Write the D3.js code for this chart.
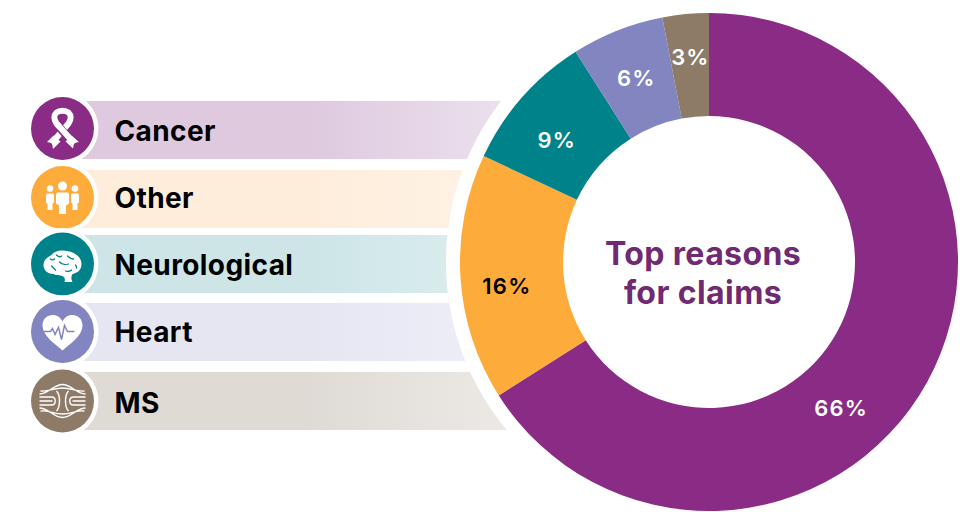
<!DOCTYPE html>
<html><head><meta charset="utf-8">
<style>html,body{margin:0;background:#fff}svg{display:block}</style>
<script src="https://cdnjs.cloudflare.com/ajax/libs/d3/7.8.5/d3.min.js"></script>
</head><body><svg id="c" width="976" height="512"></svg>
<script>
const categories = ["Cancer","Other","Neurological","Heart","MS"];
const shares = [66,16,9,6,3];
const colors = ["#8a2b85","#fdab3a","#00828a","#8285bf","#8d7b68"];
const bandFade = [["#dec9df","#ede3ef"],["#feeddb","#fff4e8"],["#cde5e7","#dff0f1"],["#e6e6f3","#f0f0f9"],["#dfdad4","#eeebe7"]];
const bandTops = [101,170,235,303,372];
const iconCentres = [128.5,197.5,264,331.5,401];
const nameBaselines = [141,207.5,275,342,413];
const labelInk = ["#fff","#000","#fff","#fff","#fff"];
const labelNudge = [[-41,51],[-5,12],[-4,8.5],[0,0],[0,-8]];
const titleLines = ["Top reasons","for claims"];

const FONT = "Inter, 'Open Sans', sans-serif";
const svg = d3.select("#c");
const cx = 709, cy = 262, R = 249, r0 = 146, halo = 263;
const iconX = 62.5, iconR = 31.5, iconHalo = 36;

// legend bands, fading towards the ring
const defs = svg.append("defs");
categories.forEach((c,i)=>{
  const g = defs.append("linearGradient").attr("id","fade"+i);
  g.append("stop").attr("offset","52%").attr("stop-color",bandFade[i][0]);
  g.append("stop").attr("offset","100%").attr("stop-color",bandFade[i][1]);
});
svg.append("g").selectAll("rect").data(categories).join("rect")
  .attr("x",iconX).attr("y",(d,i)=>bandTops[i]).attr("width",470).attr("height",58)
  .attr("fill",(d,i)=>`url(#fade${i})`);

// white halo separating the bands from the ring
svg.append("circle").attr("cx",cx).attr("cy",cy).attr("r",halo).attr("fill","#fff");

const pie = d3.pie().sort(null).value(d=>d);
const arcs = pie(shares);
const arc = d3.arc().innerRadius(r0).outerRadius(R);
const labelArc = d3.arc().innerRadius(197.5).outerRadius(197.5);
const ring = svg.append("g").attr("transform",`translate(${cx},${cy})`);
ring.selectAll("path").data(arcs).join("path").attr("d",arc).attr("fill",(d,i)=>colors[i]);

ring.selectAll("text").data(arcs).join("text")
  .attr("x",(d,i)=>labelArc.centroid(d)[0]+labelNudge[i][0])
  .attr("y",(d,i)=>labelArc.centroid(d)[1]+labelNudge[i][1])
  .attr("dy","0.35em").attr("text-anchor","middle")
  .attr("font-family",FONT).attr("font-size",22).attr("font-weight",600)
  .attr("letter-spacing",1.2)
  .attr("fill",(d,i)=>labelInk[i]).text(d=>d.data+"%");

svg.append("g").selectAll("text").data(titleLines).join("text")
  .attr("x",cx-6).attr("y",(d,i)=>265+i*39).attr("text-anchor","middle")
  .attr("font-family",FONT).attr("font-size",32).attr("font-weight",700)
  .attr("letter-spacing",0.4)
  .attr("fill","#6f2a72").text(d=>d);

svg.append("g").selectAll("text").data(categories).join("text")
  .attr("x",114.5).attr("y",(d,i)=>nameBaselines[i])
  .attr("font-family",FONT).attr("font-size",28).attr("font-weight",700)
  .attr("letter-spacing",0.4)
  .attr("fill","#000").text(d=>d);

// icon discs
const discs = svg.append("g").selectAll("g").data(categories).join("g")
  .attr("transform",(d,i)=>`translate(${iconX},${iconCentres[i]})`);
discs.append("circle").attr("r",iconHalo).attr("fill","#fff");
discs.append("circle").attr("r",iconR).attr("fill",(d,i)=>colors[i]);

const draw = {
  Cancer(g,bg){
    const line = p=>g.append("path").attr("d",p).attr("fill","none").attr("stroke","#fff").attr("stroke-width",6);
    line("M-11,15 L6,-5 C9,-10 9,-13 6,-16 C3,-18.5 -3,-18.5 -6,-16 C-9,-13 -9,-10 -6,-5 L3,5");
    g.append("path").attr("d","M-3,-1 L11,15").attr("fill","none").attr("stroke",bg).attr("stroke-width",8);
    line("M-6,-5 L12,15");
    g.append("path").attr("d","M-9,7 L-15.5,13.5 L-10.5,14.5 L-9.5,20.5 L-2,13Z M9,7 L16.5,13.5 L11.5,14.5 L10.5,20 L3,13Z").attr("fill","#fff");
  },
  Other(g){
    [[0,-11.5,4.5],[-12.5,-9,3.3],[12.5,-9,3.3]].forEach(h=>
      g.append("circle").attr("cx",h[0]).attr("cy",h[1]).attr("r",h[2]).attr("fill","#fff"));
    g.append("path").attr("fill","#fff").attr("d",
      "M-5,-5 H5 Q6.5,-5 6.5,-3 V6 L3.5,8 V16.5 H-3.5 V8 L-6.5,6 V-3 Q-6.5,-5 -5,-5Z"+
      "M-15,-4 H-10 Q-8.5,-4 -8.5,-2.5 V5 L-10,6 V12.5 H-15 V6 L-16.5,5 V-2.5 Q-16.5,-4 -15,-4Z"+
      "M10,-4 H15 Q16.5,-4 16.5,-2.5 V5 L15,6 V12.5 H10 V6 L8.5,5 V-2.5 Q8.5,-4 10,-4Z");
  },
  Neurological(g,bg){
    g.append("path").attr("fill","#fff").attr("d",
      "M-19,1 C-19,-5 -14,-7 -11,-9 C-7,-14 0,-14 5,-13 C12,-12 19,-7 19,0 C19,6 15,9 10,10 C8,13 9,16 10,18 L2,18 C3,15 2,13 0,12 C-3,11 -6,12 -9,10 C-14,10 -19,7 -19,1Z");
    g.append("path").attr("fill","none").attr("stroke",bg).attr("stroke-width",1.3).attr("stroke-linecap","round").attr("d",
      "M-6,-9 C-4,-7 -2,-7 -1,-8 M5,-8 C7,-6 9,-5 11,-5 M-3,-2 C-1,0 3,1 6,0 M-11,2 C-9,4 -8,5 -7,6 M3,7 C5,8 8,7 9,6 M13,1 C14,2 14,3 14,4 M-12,-5 C-11,-4 -9,-4 -8,-5");
  },
  Heart(g,bg){
    g.append("path").attr("fill","#fff").attr("d",
      "M0,19 C-8,12 -20,4 -20,-6 C-20,-13 -15,-16.5 -10,-16.5 C-5,-16.5 -2,-14 0,-10 C2,-14 5,-16.5 10,-16.5 C15,-16.5 20,-13 20,-6 C20,4 8,12 0,19Z");
    g.append("path").attr("fill","none").attr("stroke",bg).attr("stroke-width",1.5).attr("d",
      "M-19,0 H-12 L-10,-3 L-7.5,3 L-4,-4 L-1,8 L2,-6 L5,0 H12");
  },
  MS(g){
    g.append("path").attr("fill","none").attr("stroke","#fff").attr("stroke-width",1.4).attr("d",
      "M-23,-7 C-14,-7 -9,-16.5 0,-16.5 C9,-16.5 14,-7 23,-7 M-23,7 C-14,7 -9,16.5 0,16.5 C9,16.5 14,7 23,7"+
      "M-22,-10 C-14,-9 -9,-13 0,-13 C9,-13 14,-9 22,-10 M-22,10 C-14,9 -9,13 0,13 C9,13 14,9 22,10"+
      "M-6,-10 C-2,-6 -2,6 -6,10 M6,-10 C2,-6 2,6 6,10"+
      "M-23,-4 H-11 C-6,-4 -6,4 -11,4 H-23 M-23,0 H-10 M23,-4 H11 C6,-4 6,4 11,4 H23 M23,0 H10");
  }
};
discs.each(function(d,i){ draw[d](d3.select(this),colors[i]); });
</script></body></html>
